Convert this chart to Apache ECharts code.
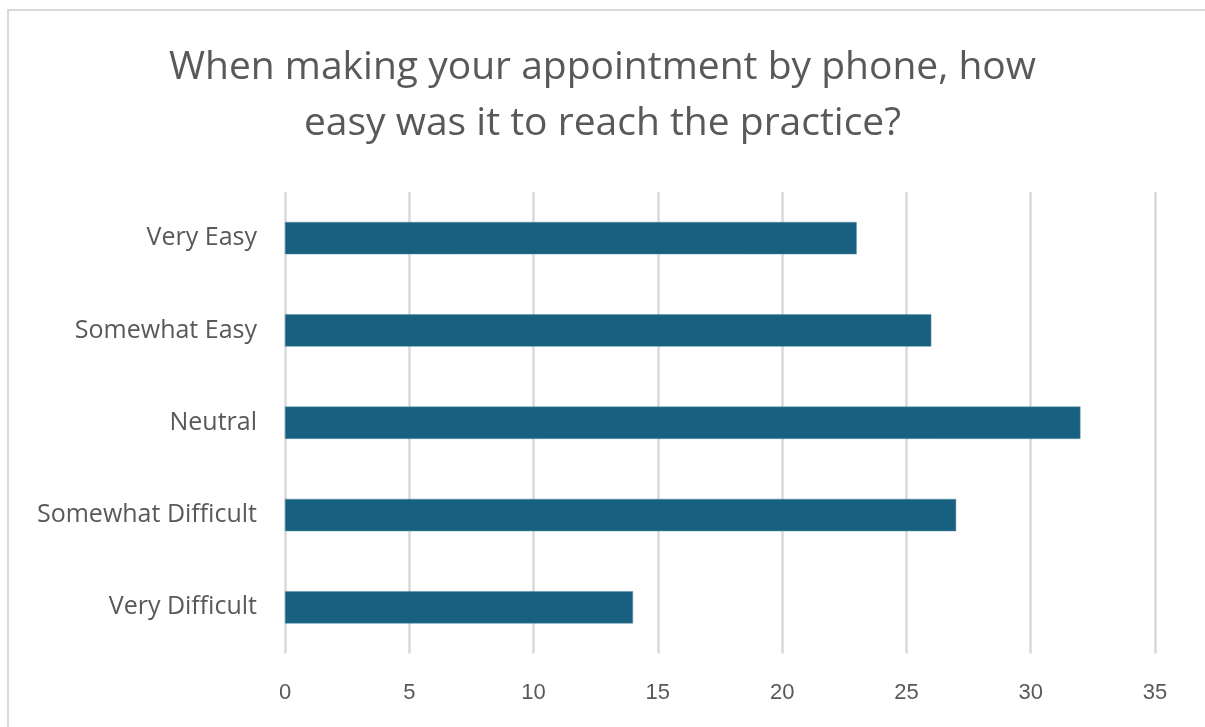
<!DOCTYPE html>
<html>
<head>
<meta charset="utf-8">
<style>
  html, body { margin: 0; padding: 0; background: #ffffff; }
  #chart { width: 1205px; height: 727px; }
</style>
<script src="https://cdn.jsdelivr.net/npm/echarts@6/dist/echarts.min.js"></script>
</head>
<body>
<div id="chart"></div>
<script>
// Survey responses, listed top to bottom as shown
const categories = ['Very Easy', 'Somewhat Easy', 'Neutral', 'Somewhat Difficult', 'Very Difficult'];
const responses = [23, 26, 32, 27, 14];
const axisTicks = [0, 5, 10, 15, 20, 25, 30, 35];

const chart = echarts.init(document.getElementById('chart'), null, { renderer: 'canvas' });

chart.setOption({
  backgroundColor: '#ffffff',
  animation: false,
  graphic: [{
    type: 'rect',
    shape: { x: 8, y: 10, width: 1220, height: 740 },
    style: { fill: 'none', stroke: '#d9d9d9', lineWidth: 2 },
    silent: true
  }],
  title: {
    text: 'When making your appointment by phone, how\neasy was it to reach the practice?',
    left: 'center',
    top: 35,
    textStyle: {
      fontFamily: 'Open Sans, sans-serif',
      fontSize: 39,
      fontWeight: 'normal',
      color: '#595959',
      lineHeight: 56
    }
  },
  grid: {
    left: 285,
    right: 1205 - 1155,
    top: 192,
    bottom: 727 - 653.5,
    containLabel: false
  },
  xAxis: {
    type: 'value',
    min: axisTicks[0],
    max: axisTicks[axisTicks.length - 1],
    interval: 5,
    axisLine: { show: false },
    axisTick: { show: false },
    axisLabel: {
      margin: 28,
      fontFamily: 'Liberation Sans, Arial, sans-serif',
      fontSize: 22,
      color: '#595959'
    },
    splitLine: { lineStyle: { color: '#d9d9d9', width: 2.5 } }
  },
  yAxis: {
    type: 'category',
    data: categories,
    inverse: true,
    axisLine: { show: false },
    axisTick: { show: false },
    axisLabel: {
      margin: 28,
      fontFamily: 'Open Sans, sans-serif',
      fontSize: 25,
      color: '#595959'
    }
  },
  series: [{
    type: 'bar',
    data: responses,
    barCategoryGap: '65%',
    itemStyle: { color: '#17607f', borderColor: '#5b8fa8', borderWidth: 0.5 }
  }]
});
</script>
</body>
</html>
